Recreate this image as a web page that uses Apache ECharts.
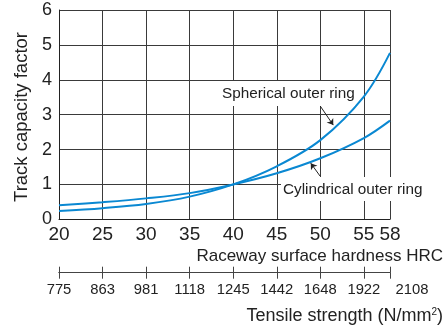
<!DOCTYPE html>
<html><head><meta charset="utf-8">
<script src="https://cdn.jsdelivr.net/npm/echarts@6/dist/echarts.min.js"></script>
<style>html,body{margin:0;padding:0;background:#fff}#c{width:445px;height:329px}</style>
</head><body><div id="c"></div>
<script>
// ---- data ----
const hrc = [20, 25, 30, 35, 40, 45, 50, 55, 58];
const spherical = [0.24, 0.32, 0.44, 0.65, 1.0, 1.52, 2.27, 3.52, 4.77];
const cylindrical = [0.40, 0.49, 0.60, 0.75, 1.0, 1.32, 1.75, 2.33, 2.83];
const tensileLabels = ['775', '863', '981', '1118', '1245', '1442', '1648', '1922', '2108'];
const yTicks = [0, 1, 2, 3, 4, 5, 6];
const sphLeader = [[49.82, 3.31], [51.49, 2.70]];
const cylLeader = [[49.97, 1.24], [48.9, 1.61]];

function fontAvailable(name) {
  const c = document.createElement('canvas').getContext('2d');
  const s = 'Cylindrical outer ring 1118';
  c.font = '20px monospace'; const a = c.measureText(s).width;
  c.font = '20px "' + name + '", monospace'; const b = c.measureText(s).width;
  return a !== b;
}
const narrow = fontAvailable('Liberation Sans Narrow');
const NF = narrow ? '"Liberation Sans Narrow", "Liberation Sans", Arial' : '"Liberation Sans", Arial';
const annSize = narrow ? 18 : 15.3;
const tenSize = narrow ? 17 : 14.8;
const F = '"Liberation Sans", Arial, sans-serif';

const chart = echarts.init(document.getElementById('c'), null, {renderer: 'canvas'});
const blue = '#0a88d2';
const gridCol = '#3a3a3a';

const tensileAxisBase = {
  type: 'value', gridIndex: 0, position: 'bottom', offset: 53.4,
  min: hrc[0], max: hrc[hrc.length - 1], interval: 5,
  axisLine: {show: true, lineStyle: {color: '#444', width: 1}},
  splitLine: {show: false}
};

chart.setOption({
  animation: false,
  textStyle: {fontFamily: F},
  grid: {left: 59, top: 10, right: 55, bottom: 109.7, containLabel: false},
  xAxis: [
    {
      type: 'value', min: hrc[0], max: hrc[hrc.length - 1], interval: 5,
      axisLine: {show: true, lineStyle: {color: '#222', width: 1}},
      axisTick: {show: false},
      axisLabel: {fontSize: 19, color: '#222', margin: 6, fontFamily: F,
        formatter: v => String(v)},
      splitLine: {show: true, lineStyle: {color: gridCol, width: 1}}
    },
    Object.assign({}, tensileAxisBase, {
      axisTick: {show: true, inside: false, length: 6, lineStyle: {color: '#444'}},
      axisLabel: {
        show: true, margin: 10, fontSize: tenSize, color: '#222', fontFamily: NF,
        formatter: v => {
          const i = hrc.indexOf(v);
          if (i < 0) return '';
          if (i === hrc.length - 1) return '{r|' + tensileLabels[i] + '}';
          return tensileLabels[i];
        },
        rich: {r: {fontSize: tenSize, fontFamily: NF, color: '#222', padding: [0, 0, 0, 44]}}
      }
    }),
    Object.assign({}, tensileAxisBase, {
      axisTick: {show: true, inside: true, length: 6, lineStyle: {color: '#444'}},
      axisLabel: {show: false}
    })
  ],
  yAxis: {
    type: 'value', min: yTicks[0], max: yTicks[yTicks.length - 1], interval: 1,
    axisLine: {show: true, lineStyle: {color: '#222', width: 1}},
    axisTick: {show: false},
    axisLabel: {fontSize: 18, color: '#222', margin: 7, fontFamily: F},
    splitLine: {show: true, lineStyle: {color: gridCol, width: 1}}
  },
  series: [
    {
      name: 'Spherical outer ring', type: 'line', xAxisIndex: 0, smooth: 0.35,
      showSymbol: false, z: 3,
      lineStyle: {color: blue, width: 2},
      data: hrc.map((x, i) => [x, spherical[i]]),
      markLine: {
        silent: true, symbol: ['none', 'arrow'], symbolSize: 6,
        lineStyle: {color: '#222', width: 1, type: 'solid'},
        label: {show: false},
        data: [
          [{coord: sphLeader[0]}, {coord: sphLeader[1]}],
          [{coord: cylLeader[0]}, {coord: cylLeader[1]}]
        ]
      }
    },
    {
      name: 'Cylindrical outer ring', type: 'line', xAxisIndex: 0, smooth: 0.35,
      showSymbol: false, z: 3,
      lineStyle: {color: blue, width: 2},
      data: hrc.map((x, i) => [x, cylindrical[i]])
    }
  ],
  graphic: [
    {type: 'rect', z: 10, shape: {x: 220, y: 81, width: 135, height: 25}, style: {fill: '#fff'}},
    {type: 'text', z: 11, x: 222, y: 94, style: {text: 'Spherical outer ring', font: annSize + 'px ' + NF, fill: '#222', textAlign: 'left', textVerticalAlign: 'middle'}},
    {type: 'rect', z: 10, shape: {x: 281, y: 177, width: 142, height: 24}, style: {fill: '#fff'}},
    {type: 'text', z: 11, x: 283, y: 190, style: {text: 'Cylindrical outer ring', font: annSize + 'px ' + NF, fill: '#222', textAlign: 'left', textVerticalAlign: 'middle'}},
    {type: 'text', z: 11, x: 22, y: 117, rotation: Math.PI / 2, style: {text: 'Track capacity factor', font: '18.5px ' + F, fill: '#222', textAlign: 'center', textVerticalAlign: 'middle'}},
    {type: 'text', z: 11, x: 443, y: 256, style: {text: 'Raceway surface hardness HRC', font: '17px ' + F, fill: '#222', textAlign: 'right', textVerticalAlign: 'middle'}},
    {type: 'text', z: 11, x: 443, y: 316, style: {
      text: 'Tensile strength (N/mm{sup|2})', font: '18px ' + F, fill: '#222', textAlign: 'right', textVerticalAlign: 'middle',
      rich: {sup: {fontSize: 10, fontFamily: F, fill: '#222', verticalAlign: 'top', padding: [0, 0, 8, 0]}}
    }}
  ]
});
</script>
</body></html>
